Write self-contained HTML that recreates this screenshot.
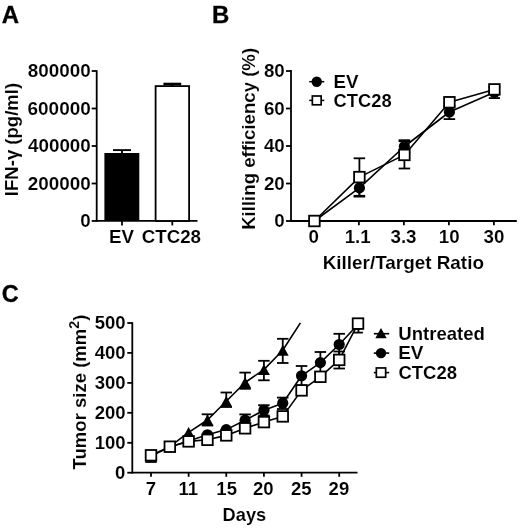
<!DOCTYPE html>
<html><head><meta charset="utf-8"><title>Figure</title>
<style>
html,body{margin:0;padding:0;background:#fff;overflow:hidden;}
svg{display:block;will-change:transform;}
text{font-family:"Liberation Sans",sans-serif;fill:#000;}
text.t{stroke:#000;}
text.b{font-weight:bold;stroke:#000;}
</style></head>
<body>
<svg width="520" height="529" viewBox="0 0 520 529">
<rect width="520" height="529" fill="#fff"/>
<text class="b" transform="translate(1.65 23.4) scale(1.042 1)" style="font-size:23px;stroke-width:0.3px">A</text>
<line x1="96.7" y1="70.25" x2="96.7" y2="221.7" stroke="#000" stroke-width="1.8" stroke-linecap="butt"/>
<line x1="95.8" y1="220.95" x2="197.5" y2="220.95" stroke="#000" stroke-width="1.8" stroke-linecap="butt"/>
<line x1="91.7" y1="71.0" x2="96.7" y2="71.0" stroke="#000" stroke-width="1.8" stroke-linecap="butt"/>
<text class="b" transform="translate(27.77 77.0) scale(1.0496 1)" style="font-size:18.0px;stroke:#fff;stroke-width:0.1px">800000</text>
<line x1="91.7" y1="108.5" x2="96.7" y2="108.5" stroke="#000" stroke-width="1.8" stroke-linecap="butt"/>
<text class="b" transform="translate(27.5 114.5) scale(1.0541 1)" style="font-size:18.0px;stroke:#fff;stroke-width:0.1px">600000</text>
<line x1="91.7" y1="146.0" x2="96.7" y2="146.0" stroke="#000" stroke-width="1.8" stroke-linecap="butt"/>
<text class="b" transform="translate(28.03 152.0) scale(1.0451 1)" style="font-size:18.0px;stroke:#fff;stroke-width:0.1px">400000</text>
<line x1="91.7" y1="183.5" x2="96.7" y2="183.5" stroke="#000" stroke-width="1.8" stroke-linecap="butt"/>
<text class="b" transform="translate(27.77 189.5) scale(1.0496 1)" style="font-size:18.0px;stroke:#fff;stroke-width:0.1px">200000</text>
<line x1="91.7" y1="220.95" x2="96.7" y2="220.95" stroke="#000" stroke-width="1.8" stroke-linecap="butt"/>
<text class="b" transform="translate(80.19 226.95) scale(1.042 1)" style="font-size:18.0px;stroke:#fff;stroke-width:0.1px">0</text>
<rect x="104.4" y="153.0" width="34.9" height="68" fill="#000"/>
<line x1="122" y1="150.1" x2="122" y2="153.0" stroke="#000" stroke-width="1.9" stroke-linecap="butt"/>
<line x1="113.0" y1="150.1" x2="131.0" y2="150.1" stroke="#000" stroke-width="1.9" stroke-linecap="butt"/>
<rect x="155.6" y="86.1" width="33.5" height="134.85" fill="#fff" stroke="#000" stroke-width="1.8"/>
<line x1="172.3" y1="84.0" x2="172.3" y2="86.1" stroke="#000" stroke-width="2.6" stroke-linecap="butt"/>
<line x1="163.4" y1="84.0" x2="181.20000000000002" y2="84.0" stroke="#000" stroke-width="2.6" stroke-linecap="butt"/>
<line x1="122" y1="220.95" x2="122" y2="225.4" stroke="#000" stroke-width="1.8" stroke-linecap="butt"/>
<line x1="172.3" y1="220.95" x2="172.3" y2="225.4" stroke="#000" stroke-width="1.8" stroke-linecap="butt"/>
<text class="b" transform="translate(109.1 242.9) scale(1.042 1)" style="font-size:18.0px;stroke:#fff;stroke-width:0.1px">EV</text>
<text class="b" transform="translate(141.66 242.9) scale(1.0414 1)" style="font-size:18.0px;stroke:#fff;stroke-width:0.1px">CTC28</text>
<text class="b" transform="translate(18.4 196.14) rotate(-90) scale(1.0311 1)" style="font-size:18.0px;stroke:#fff;stroke-width:0.1px">IFN-&#947; (pg/ml)</text>
<text class="b" transform="translate(212.07 22.8) scale(1.042 1)" style="font-size:23px;stroke-width:0.3px">B</text>
<line x1="291" y1="70.1" x2="291" y2="221.9" stroke="#000" stroke-width="1.8" stroke-linecap="butt"/>
<line x1="290.1" y1="221.0" x2="516.8" y2="221.0" stroke="#000" stroke-width="1.8" stroke-linecap="butt"/>
<line x1="286" y1="71.0" x2="291" y2="71.0" stroke="#000" stroke-width="1.8" stroke-linecap="butt"/>
<text class="b" transform="translate(263.94 77.1) scale(1.042 1)" style="font-size:18.0px;stroke:#fff;stroke-width:0.1px">80</text>
<line x1="286" y1="108.5" x2="291" y2="108.5" stroke="#000" stroke-width="1.8" stroke-linecap="butt"/>
<text class="b" transform="translate(263.94 114.6) scale(1.042 1)" style="font-size:18.0px;stroke:#fff;stroke-width:0.1px">60</text>
<line x1="286" y1="146.0" x2="291" y2="146.0" stroke="#000" stroke-width="1.8" stroke-linecap="butt"/>
<text class="b" transform="translate(263.94 152.1) scale(1.042 1)" style="font-size:18.0px;stroke:#fff;stroke-width:0.1px">40</text>
<line x1="286" y1="183.5" x2="291" y2="183.5" stroke="#000" stroke-width="1.8" stroke-linecap="butt"/>
<text class="b" transform="translate(263.94 189.6) scale(1.042 1)" style="font-size:18.0px;stroke:#fff;stroke-width:0.1px">20</text>
<line x1="286" y1="221.0" x2="291" y2="221.0" stroke="#000" stroke-width="1.8" stroke-linecap="butt"/>
<text class="b" transform="translate(274.24 227.1) scale(1.042 1)" style="font-size:18.0px;stroke:#fff;stroke-width:0.1px">0</text>
<line x1="313.9" y1="221.0" x2="313.9" y2="225.2" stroke="#000" stroke-width="1.8" stroke-linecap="butt"/>
<line x1="358.9" y1="221.0" x2="358.9" y2="225.2" stroke="#000" stroke-width="1.8" stroke-linecap="butt"/>
<line x1="403.9" y1="221.0" x2="403.9" y2="225.2" stroke="#000" stroke-width="1.8" stroke-linecap="butt"/>
<line x1="448.9" y1="221.0" x2="448.9" y2="225.2" stroke="#000" stroke-width="1.8" stroke-linecap="butt"/>
<line x1="493.9" y1="221.0" x2="493.9" y2="225.2" stroke="#000" stroke-width="1.8" stroke-linecap="butt"/>
<text class="b" transform="translate(308.46 242.8) scale(1.042 1)" style="font-size:18.0px;stroke:#fff;stroke-width:0.1px">0</text>
<text class="b" transform="translate(344.63 242.8) scale(1.042 1)" style="font-size:18.0px;stroke:#fff;stroke-width:0.1px">1.1</text>
<text class="b" transform="translate(390.45 242.8) scale(1.042 1)" style="font-size:18.0px;stroke:#fff;stroke-width:0.1px">3.3</text>
<text class="b" transform="translate(438.8 242.8) scale(1.042 1)" style="font-size:18.0px;stroke:#fff;stroke-width:0.1px">10</text>
<text class="b" transform="translate(483.51 242.8) scale(1.042 1)" style="font-size:18.0px;stroke:#fff;stroke-width:0.1px">30</text>
<text class="b" transform="translate(322.69 268.8) scale(1.0504 1)" style="font-size:18.0px;stroke:#fff;stroke-width:0.1px">Killer/Target Ratio</text>
<text class="b" transform="translate(254.9 229.85) rotate(-90) scale(1.0348 1)" style="font-size:18.0px;stroke:#fff;stroke-width:0.1px">Killing efficiency (%)</text>
<line x1="359.4" y1="180.5" x2="359.4" y2="195.8" stroke="#000" stroke-width="1.8" stroke-linecap="butt"/>
<line x1="353.65" y1="180.5" x2="365.15" y2="180.5" stroke="#000" stroke-width="1.8" stroke-linecap="butt"/>
<line x1="353.65" y1="195.8" x2="365.15" y2="195.8" stroke="#000" stroke-width="1.8" stroke-linecap="butt"/>
<line x1="404.4" y1="140.2" x2="404.4" y2="152.5" stroke="#000" stroke-width="1.8" stroke-linecap="butt"/>
<line x1="398.65" y1="140.2" x2="410.15" y2="140.2" stroke="#000" stroke-width="1.8" stroke-linecap="butt"/>
<line x1="398.65" y1="152.5" x2="410.15" y2="152.5" stroke="#000" stroke-width="1.8" stroke-linecap="butt"/>
<line x1="449.4" y1="106" x2="449.4" y2="119.1" stroke="#000" stroke-width="1.8" stroke-linecap="butt"/>
<line x1="443.65" y1="106" x2="455.15" y2="106" stroke="#000" stroke-width="1.8" stroke-linecap="butt"/>
<line x1="443.65" y1="119.1" x2="455.15" y2="119.1" stroke="#000" stroke-width="1.8" stroke-linecap="butt"/>
<line x1="494.4" y1="88" x2="494.4" y2="98.1" stroke="#000" stroke-width="1.8" stroke-linecap="butt"/>
<line x1="488.79999999999995" y1="88" x2="500.0" y2="88" stroke="#000" stroke-width="1.8" stroke-linecap="butt"/>
<line x1="488.79999999999995" y1="98.1" x2="500.0" y2="98.1" stroke="#000" stroke-width="1.8" stroke-linecap="butt"/>
<line x1="359.4" y1="158.3" x2="359.4" y2="196.6" stroke="#000" stroke-width="1.8" stroke-linecap="butt"/>
<line x1="353.65" y1="158.3" x2="365.15" y2="158.3" stroke="#000" stroke-width="1.8" stroke-linecap="butt"/>
<line x1="353.65" y1="196.6" x2="365.15" y2="196.6" stroke="#000" stroke-width="1.8" stroke-linecap="butt"/>
<line x1="404.4" y1="141.2" x2="404.4" y2="168.5" stroke="#000" stroke-width="1.8" stroke-linecap="butt"/>
<line x1="398.65" y1="141.2" x2="410.15" y2="141.2" stroke="#000" stroke-width="1.8" stroke-linecap="butt"/>
<line x1="398.65" y1="168.5" x2="410.15" y2="168.5" stroke="#000" stroke-width="1.8" stroke-linecap="butt"/>
<line x1="449.4" y1="97.4" x2="449.4" y2="106" stroke="#000" stroke-width="1.8" stroke-linecap="butt"/>
<line x1="443.65" y1="97.4" x2="455.15" y2="97.4" stroke="#000" stroke-width="1.8" stroke-linecap="butt"/>
<line x1="443.65" y1="106" x2="455.15" y2="106" stroke="#000" stroke-width="1.8" stroke-linecap="butt"/>
<line x1="494.4" y1="87" x2="494.4" y2="93" stroke="#000" stroke-width="1.8" stroke-linecap="butt"/>
<line x1="488.65" y1="87" x2="500.15" y2="87" stroke="#000" stroke-width="1.8" stroke-linecap="butt"/>
<line x1="488.65" y1="93" x2="500.15" y2="93" stroke="#000" stroke-width="1.8" stroke-linecap="butt"/>
<polyline points="314.4,221.0 359.4,187.9 404.4,146.5 449.4,112.0 494.4,92.3" fill="none" stroke="#000" stroke-width="1.6" stroke-linejoin="round"/>
<polyline points="314.4,221.0 359.4,177.1 404.4,154.9 449.4,102.3 494.4,89.4" fill="none" stroke="#000" stroke-width="1.6" stroke-linejoin="round"/>
<circle cx="314.4" cy="221.0" r="5.6" fill="#000"/>
<circle cx="359.4" cy="187.9" r="5.6" fill="#000"/>
<circle cx="404.4" cy="146.5" r="5.6" fill="#000"/>
<circle cx="449.4" cy="112.0" r="5.6" fill="#000"/>
<circle cx="494.4" cy="92.3" r="5.6" fill="#000"/>
<rect x="309.1" y="215.7" width="10.6" height="10.6" fill="#fff" stroke="#000" stroke-width="1.8"/>
<rect x="354.1" y="171.8" width="10.6" height="10.6" fill="#fff" stroke="#000" stroke-width="1.8"/>
<rect x="399.1" y="149.6" width="10.6" height="10.6" fill="#fff" stroke="#000" stroke-width="1.8"/>
<rect x="444.1" y="97.0" width="10.6" height="10.6" fill="#fff" stroke="#000" stroke-width="1.8"/>
<rect x="489.1" y="84.1" width="10.6" height="10.6" fill="#fff" stroke="#000" stroke-width="1.8"/>
<line x1="309.2" y1="81.7" x2="324.3" y2="81.7" stroke="#000" stroke-width="1.5" stroke-linecap="butt"/>
<circle cx="316.75" cy="81.7" r="5.2" fill="#000"/>
<line x1="309.2" y1="100.4" x2="324.3" y2="100.4" stroke="#000" stroke-width="1.5" stroke-linecap="butt"/>
<rect x="312.35" y="96.0" width="8.8" height="8.8" fill="#fff" stroke="#000" stroke-width="1.7"/>
<text class="b" transform="translate(333.58 88.0) scale(1.042 1)" style="font-size:18.0px;stroke:#fff;stroke-width:0.1px">EV</text>
<text class="b" transform="translate(333.38 106.7) scale(1.0216 1)" style="font-size:18.0px;stroke:#fff;stroke-width:0.1px">CTC28</text>
<text class="b" transform="translate(1.78 302.2) scale(1.02 1)" style="font-size:23px;stroke-width:0.3px">C</text>
<line x1="132.3" y1="322.25" x2="132.3" y2="473.45" stroke="#000" stroke-width="1.8" stroke-linecap="butt"/>
<line x1="131.4" y1="472.7" x2="357.5" y2="472.7" stroke="#000" stroke-width="1.8" stroke-linecap="butt"/>
<line x1="127.30000000000001" y1="323.0" x2="132.3" y2="323.0" stroke="#000" stroke-width="1.8" stroke-linecap="butt"/>
<text class="b" transform="translate(94.71 329.4) scale(1.02 1)" style="font-size:18.2px;stroke:#fff;stroke-width:0.1px">500</text>
<line x1="127.30000000000001" y1="352.9" x2="132.3" y2="352.9" stroke="#000" stroke-width="1.8" stroke-linecap="butt"/>
<text class="b" transform="translate(94.71 359.29999999999995) scale(1.02 1)" style="font-size:18.2px;stroke:#fff;stroke-width:0.1px">400</text>
<line x1="127.30000000000001" y1="382.9" x2="132.3" y2="382.9" stroke="#000" stroke-width="1.8" stroke-linecap="butt"/>
<text class="b" transform="translate(94.71 389.29999999999995) scale(1.02 1)" style="font-size:18.2px;stroke:#fff;stroke-width:0.1px">300</text>
<line x1="127.30000000000001" y1="412.8" x2="132.3" y2="412.8" stroke="#000" stroke-width="1.8" stroke-linecap="butt"/>
<text class="b" transform="translate(94.71 419.2) scale(1.02 1)" style="font-size:18.2px;stroke:#fff;stroke-width:0.1px">200</text>
<line x1="127.30000000000001" y1="442.8" x2="132.3" y2="442.8" stroke="#000" stroke-width="1.8" stroke-linecap="butt"/>
<text class="b" transform="translate(94.71 449.2) scale(1.02 1)" style="font-size:18.2px;stroke:#fff;stroke-width:0.1px">100</text>
<line x1="127.30000000000001" y1="472.7" x2="132.3" y2="472.7" stroke="#000" stroke-width="1.8" stroke-linecap="butt"/>
<text class="b" transform="translate(114.9 479.09999999999997) scale(1.02 1)" style="font-size:18.2px;stroke:#fff;stroke-width:0.1px">0</text>
<line x1="151.0" y1="472.7" x2="151.0" y2="476.8" stroke="#000" stroke-width="1.8" stroke-linecap="butt"/>
<line x1="188.64" y1="472.7" x2="188.64" y2="476.8" stroke="#000" stroke-width="1.8" stroke-linecap="butt"/>
<line x1="226.28" y1="472.7" x2="226.28" y2="476.8" stroke="#000" stroke-width="1.8" stroke-linecap="butt"/>
<line x1="263.92" y1="472.7" x2="263.92" y2="476.8" stroke="#000" stroke-width="1.8" stroke-linecap="butt"/>
<line x1="301.56" y1="472.7" x2="301.56" y2="476.8" stroke="#000" stroke-width="1.8" stroke-linecap="butt"/>
<line x1="339.2" y1="472.7" x2="339.2" y2="476.8" stroke="#000" stroke-width="1.8" stroke-linecap="butt"/>
<text class="b" transform="translate(145.75 495.2) scale(1.02 1)" style="font-size:18.2px;stroke:#fff;stroke-width:0.1px">7</text>
<text class="b" transform="translate(178.5 495.2) scale(1.02 1)" style="font-size:18.2px;stroke:#fff;stroke-width:0.1px">11</text>
<text class="b" transform="translate(216.34 495.2) scale(1.02 1)" style="font-size:18.2px;stroke:#fff;stroke-width:0.1px">15</text>
<text class="b" transform="translate(252.92 495.2) scale(1.02 1)" style="font-size:18.2px;stroke:#fff;stroke-width:0.1px">20</text>
<text class="b" transform="translate(290.95 495.2) scale(1.02 1)" style="font-size:18.2px;stroke:#fff;stroke-width:0.1px">25</text>
<text class="b" transform="translate(328.58 495.2) scale(1.02 1)" style="font-size:18.2px;stroke:#fff;stroke-width:0.1px">29</text>
<text class="b" transform="translate(222.59 521.3) scale(1.0048 1)" style="font-size:18.2px;stroke:#fff;stroke-width:0.1px">Days</text>
<text class="b" transform="translate(85.8 469.4) rotate(-90) scale(1.0176 1)" style="font-size:18.2px;stroke:#fff;stroke-width:0.1px">Tumor size (mm<tspan dy="-7.2" style="font-size:14px">2</tspan><tspan dy="7.2">)</tspan></text>
<line x1="207.46" y1="414.3" x2="207.46" y2="425.5" stroke="#000" stroke-width="1.8" stroke-linecap="butt"/>
<line x1="201.71" y1="414.3" x2="213.21" y2="414.3" stroke="#000" stroke-width="1.8" stroke-linecap="butt"/>
<line x1="201.71" y1="425.5" x2="213.21" y2="425.5" stroke="#000" stroke-width="1.8" stroke-linecap="butt"/>
<line x1="226.28" y1="392.5" x2="226.28" y2="407.0" stroke="#000" stroke-width="1.8" stroke-linecap="butt"/>
<line x1="220.53" y1="392.5" x2="232.03" y2="392.5" stroke="#000" stroke-width="1.8" stroke-linecap="butt"/>
<line x1="220.53" y1="407.0" x2="232.03" y2="407.0" stroke="#000" stroke-width="1.8" stroke-linecap="butt"/>
<line x1="245.1" y1="372.6" x2="245.1" y2="388.8" stroke="#000" stroke-width="1.8" stroke-linecap="butt"/>
<line x1="239.35" y1="372.6" x2="250.85" y2="372.6" stroke="#000" stroke-width="1.8" stroke-linecap="butt"/>
<line x1="239.35" y1="388.8" x2="250.85" y2="388.8" stroke="#000" stroke-width="1.8" stroke-linecap="butt"/>
<line x1="263.92" y1="360.8" x2="263.92" y2="380.3" stroke="#000" stroke-width="1.8" stroke-linecap="butt"/>
<line x1="258.17" y1="360.8" x2="269.67" y2="360.8" stroke="#000" stroke-width="1.8" stroke-linecap="butt"/>
<line x1="258.17" y1="380.3" x2="269.67" y2="380.3" stroke="#000" stroke-width="1.8" stroke-linecap="butt"/>
<line x1="282.74" y1="338.8" x2="282.74" y2="363.0" stroke="#000" stroke-width="1.8" stroke-linecap="butt"/>
<line x1="276.99" y1="338.8" x2="288.49" y2="338.8" stroke="#000" stroke-width="1.8" stroke-linecap="butt"/>
<line x1="276.99" y1="363.0" x2="288.49" y2="363.0" stroke="#000" stroke-width="1.8" stroke-linecap="butt"/>
<line x1="151.0" y1="452" x2="151.0" y2="462.0" stroke="#000" stroke-width="1.8" stroke-linecap="butt"/>
<line x1="145.25" y1="452" x2="156.75" y2="452" stroke="#000" stroke-width="1.8" stroke-linecap="butt"/>
<line x1="145.25" y1="462.0" x2="156.75" y2="462.0" stroke="#000" stroke-width="1.8" stroke-linecap="butt"/>
<line x1="245.1" y1="414.4" x2="245.1" y2="426" stroke="#000" stroke-width="1.8" stroke-linecap="butt"/>
<line x1="239.35" y1="414.4" x2="250.85" y2="414.4" stroke="#000" stroke-width="1.8" stroke-linecap="butt"/>
<line x1="239.35" y1="426" x2="250.85" y2="426" stroke="#000" stroke-width="1.8" stroke-linecap="butt"/>
<line x1="263.92" y1="405.2" x2="263.92" y2="415.5" stroke="#000" stroke-width="1.8" stroke-linecap="butt"/>
<line x1="258.17" y1="405.2" x2="269.67" y2="405.2" stroke="#000" stroke-width="1.8" stroke-linecap="butt"/>
<line x1="258.17" y1="415.5" x2="269.67" y2="415.5" stroke="#000" stroke-width="1.8" stroke-linecap="butt"/>
<line x1="282.74" y1="397.6" x2="282.74" y2="409" stroke="#000" stroke-width="1.8" stroke-linecap="butt"/>
<line x1="276.99" y1="397.6" x2="288.49" y2="397.6" stroke="#000" stroke-width="1.8" stroke-linecap="butt"/>
<line x1="276.99" y1="409" x2="288.49" y2="409" stroke="#000" stroke-width="1.8" stroke-linecap="butt"/>
<line x1="301.56" y1="366.0" x2="301.56" y2="385.5" stroke="#000" stroke-width="1.8" stroke-linecap="butt"/>
<line x1="295.81" y1="366.0" x2="307.31" y2="366.0" stroke="#000" stroke-width="1.8" stroke-linecap="butt"/>
<line x1="295.81" y1="385.5" x2="307.31" y2="385.5" stroke="#000" stroke-width="1.8" stroke-linecap="butt"/>
<line x1="320.38" y1="352.0" x2="320.38" y2="373" stroke="#000" stroke-width="1.8" stroke-linecap="butt"/>
<line x1="314.63" y1="352.0" x2="326.13" y2="352.0" stroke="#000" stroke-width="1.8" stroke-linecap="butt"/>
<line x1="314.63" y1="373" x2="326.13" y2="373" stroke="#000" stroke-width="1.8" stroke-linecap="butt"/>
<line x1="339.2" y1="333.8" x2="339.2" y2="355" stroke="#000" stroke-width="1.8" stroke-linecap="butt"/>
<line x1="333.45" y1="333.8" x2="344.95" y2="333.8" stroke="#000" stroke-width="1.8" stroke-linecap="butt"/>
<line x1="333.45" y1="355" x2="344.95" y2="355" stroke="#000" stroke-width="1.8" stroke-linecap="butt"/>
<line x1="339.2" y1="351.5" x2="339.2" y2="368.5" stroke="#000" stroke-width="1.8" stroke-linecap="butt"/>
<line x1="333.45" y1="351.5" x2="344.95" y2="351.5" stroke="#000" stroke-width="1.8" stroke-linecap="butt"/>
<line x1="333.45" y1="368.5" x2="344.95" y2="368.5" stroke="#000" stroke-width="1.8" stroke-linecap="butt"/>
<line x1="358.42" y1="324" x2="358.42" y2="332.6" stroke="#000" stroke-width="1.8" stroke-linecap="butt"/>
<line x1="353.92" y1="332.6" x2="362.92" y2="332.6" stroke="#000" stroke-width="1.8" stroke-linecap="butt"/>
<polyline points="169.82,446.6 188.64,432.3 207.46,420.0 226.28,401.3 245.1,382.5 263.92,369.6 282.74,350.3 300.4,322.9" fill="none" stroke="#000" stroke-width="1.6" stroke-linejoin="round"/>
<polyline points="151.0,456.0 169.82,447.0 188.64,441.0 207.46,434.8 226.28,429.6 245.1,420.2 263.92,410.2 282.74,403.2 301.56,375.8 320.38,362.6 339.2,344.5 358.02,324.5" fill="none" stroke="#000" stroke-width="1.6" stroke-linejoin="round"/>
<polyline points="151.0,455.3 169.82,446.7 188.64,441.4 207.46,439.8 226.28,435.4 245.1,428.3 263.92,422.1 282.74,416.4 301.56,390.4 320.38,376.8 339.2,359.9 358.02,323.6" fill="none" stroke="#000" stroke-width="1.6" stroke-linejoin="round"/>
<polygon points="188.64,426.90000000000003 182.69,437.7 194.59,437.7" fill="#000"/>
<polygon points="207.46,414.6 201.51,425.4 213.41,425.4" fill="#000"/>
<polygon points="226.28,395.90000000000003 220.33,406.7 232.23,406.7" fill="#000"/>
<polygon points="245.1,377.1 239.15,387.9 251.05,387.9" fill="#000"/>
<polygon points="263.92,364.20000000000005 257.97,375.0 269.87,375.0" fill="#000"/>
<polygon points="282.74,344.90000000000003 276.79,355.7 288.69,355.7" fill="#000"/>
<circle cx="151.0" cy="456.0" r="5.6" fill="#000"/>
<circle cx="169.82" cy="447.0" r="5.6" fill="#000"/>
<circle cx="188.64" cy="441.0" r="5.6" fill="#000"/>
<circle cx="207.46" cy="434.8" r="5.6" fill="#000"/>
<circle cx="226.28" cy="429.6" r="5.6" fill="#000"/>
<circle cx="245.1" cy="420.2" r="5.6" fill="#000"/>
<circle cx="263.92" cy="410.2" r="5.6" fill="#000"/>
<circle cx="282.74" cy="403.2" r="5.6" fill="#000"/>
<circle cx="301.56" cy="375.8" r="5.6" fill="#000"/>
<circle cx="320.38" cy="362.6" r="5.6" fill="#000"/>
<circle cx="339.2" cy="344.5" r="5.6" fill="#000"/>
<circle cx="358.02" cy="324.5" r="5.6" fill="#000"/>
<rect x="145.7" y="450.0" width="10.6" height="10.6" fill="#fff" stroke="#000" stroke-width="1.8"/>
<rect x="164.52" y="441.4" width="10.6" height="10.6" fill="#fff" stroke="#000" stroke-width="1.8"/>
<rect x="183.34" y="436.1" width="10.6" height="10.6" fill="#fff" stroke="#000" stroke-width="1.8"/>
<rect x="202.16" y="434.5" width="10.6" height="10.6" fill="#fff" stroke="#000" stroke-width="1.8"/>
<rect x="220.98" y="430.1" width="10.6" height="10.6" fill="#fff" stroke="#000" stroke-width="1.8"/>
<rect x="239.8" y="423.0" width="10.6" height="10.6" fill="#fff" stroke="#000" stroke-width="1.8"/>
<rect x="258.62" y="416.8" width="10.6" height="10.6" fill="#fff" stroke="#000" stroke-width="1.8"/>
<rect x="277.44" y="411.1" width="10.6" height="10.6" fill="#fff" stroke="#000" stroke-width="1.8"/>
<rect x="296.26" y="385.1" width="10.6" height="10.6" fill="#fff" stroke="#000" stroke-width="1.8"/>
<rect x="315.08" y="371.5" width="10.6" height="10.6" fill="#fff" stroke="#000" stroke-width="1.8"/>
<rect x="333.9" y="354.6" width="10.6" height="10.6" fill="#fff" stroke="#000" stroke-width="1.8"/>
<rect x="352.72" y="318.3" width="10.6" height="10.6" fill="#fff" stroke="#000" stroke-width="1.8"/>
<line x1="373.8" y1="333.7" x2="389.2" y2="333.7" stroke="#000" stroke-width="1.6" stroke-linecap="butt"/>
<polygon points="381.0,328.0 375.3,338.20000000000005 386.7,338.20000000000005" fill="#000"/>
<line x1="373.8" y1="353.1" x2="389.2" y2="353.1" stroke="#000" stroke-width="1.6" stroke-linecap="butt"/>
<circle cx="381.0" cy="353.1" r="5.2" fill="#000"/>
<line x1="373.8" y1="372.6" x2="389.2" y2="372.6" stroke="#000" stroke-width="1.6" stroke-linecap="butt"/>
<rect x="376.35" y="367.95" width="9.3" height="9.3" fill="#fff" stroke="#000" stroke-width="1.7"/>
<text class="b" transform="translate(398.28 339.6) scale(1.0218 1)" style="font-size:18.2px;stroke:#fff;stroke-width:0.1px">Untreated</text>
<text class="b" transform="translate(398.2 359.0) scale(1.0418 1)" style="font-size:18.2px;stroke:#fff;stroke-width:0.1px">EV</text>
<text class="b" transform="translate(398.39 378.8) scale(1.0169 1)" style="font-size:18.2px;stroke:#fff;stroke-width:0.1px">CTC28</text>
</svg>
</body></html>
